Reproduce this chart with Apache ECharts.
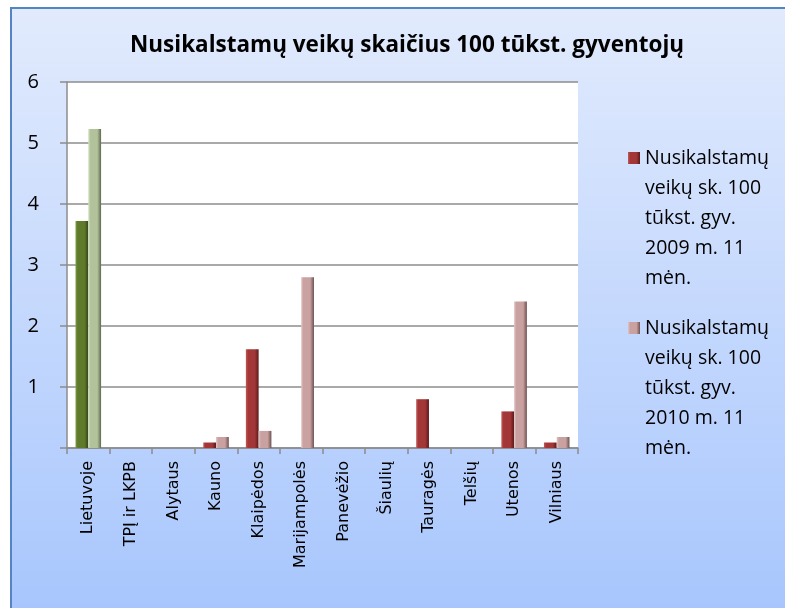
<!DOCTYPE html>
<html><head><meta charset="utf-8">
<script src="https://cdn.jsdelivr.net/npm/echarts@6/dist/echarts.min.js"></script>
<style>html,body{margin:0;padding:0;background:#fff}#c{width:785px;height:608px}</style>
</head><body><div id="c"></div>
<script>
const categories = ['Lietuvoje','TPĮ ir LKPB','Alytaus','Kauno','Klaipėdos','Marijampolės','Panevėžio','Šiaulių','Tauragės','Telšių','Utenos','Vilniaus'];
const v2009 = [3.72, 0, 0, 0.09, 1.62, 0, 0, 0, 0.8, 0, 0.6, 0.09];
const v2010 = [5.23, 0, 0, 0.18, 0.28, 2.8, 0, 0, 0, 0, 2.4, 0.18];
const seriesNames = ['Nusikalstamų\nveikų sk. 100\ntūkst. gyv.\n2009 m. 11\nmėn.', 'Nusikalstamų\nveikų sk. 100\ntūkst. gyv.\n2010 m. 11\nmėn.'];
const yTicks = [0,1,2,3,4,5,6];

function grad(light, face, dark){
  return {type:'linear',x:0,y:0,x2:1,y2:0,colorStops:[
    {offset:0,color:light},{offset:0.18,color:face},{offset:0.7,color:face},{offset:1,color:dark}]};
}
const red = grad('#c25a5a','#a33636','#5a1a1a');
const pink = grad('#e2c4c4','#c9a1a1','#6e5252');
const green = grad('#7c9a44','#5e7a2a','#34441a');
const lgreen = grad('#d2dfbd','#b2c29a','#5e6a52');

const d2009 = v2009.map((v,i)=> i===0 ? {value:v,itemStyle:{color:green}} : v);
const d2010 = v2010.map((v,i)=> i===0 ? {value:v,itemStyle:{color:lgreen}} : v);

const legendText = {fontFamily:'Open Sans', fontSize:19.5, color:'#000', lineHeight:30};
const pad = '\n\n\n\n';

const chart = echarts.init(document.getElementById('c'), null, {renderer:'canvas'});
chart.setOption({
  animation:false,
  backgroundColor:'#fff',
  graphic:[{type:'rect', z:-10, silent:true, shape:{x:11,y:8,width:800,height:620},
    style:{fill:{type:'linear',x:0,y:0,x2:0,y2:1,colorStops:[{offset:0,color:'#e2ebfd'},{offset:1,color:'#a6c5fd'}]},
    stroke:'#5584c4', lineWidth:2}}],
  title:{text:'Nusikalstamų veikų skaičius 100 tūkst. gyventojų', left:125, top:29,
    textStyle:{fontFamily:'Open Sans', fontWeight:'bold', fontSize:22.5, color:'#000'}},
  legend:[
    {data:[seriesNames[0]], orient:'vertical', left:628, top:23, padding:0, itemWidth:12, itemHeight:12, icon:'rect', itemGap:0, textStyle:legendText, selectedMode:false, formatter:(n)=>pad+n},
    {data:[seriesNames[1]], orient:'vertical', left:628, top:193, padding:0, itemWidth:12, itemHeight:12, icon:'rect', itemGap:0, textStyle:legendText, selectedMode:false, formatter:(n)=>pad+n}
  ],
  grid:{left:67, right:207, top:82, bottom:160, show:true, backgroundColor:'#fff', borderWidth:0, containLabel:false},
  xAxis:{type:'category', data:categories,
    axisLine:{lineStyle:{color:'#8c8c8c', width:1.5}},
    axisTick:{show:true, length:6, lineStyle:{color:'#8c8c8c', width:1.5}},
    axisLabel:{rotate:90, margin:13, interval:0, fontFamily:'DejaVu Sans', fontSize:16, color:'#000'}},
  yAxis:{type:'value', min:0, max:6, interval:1,
    axisLine:{show:true, lineStyle:{color:'#8c8c8c', width:1.5}},
    axisTick:{show:true, length:7, lineStyle:{color:'#8c8c8c', width:1.5}},
    splitLine:{lineStyle:{color:'#8c8c8c', width:1.5}},
    axisLabel:{margin:28, fontFamily:'Open Sans', fontSize:20, color:'#000', formatter:(v)=> yTicks.includes(v) && v!==0 ? String(v) : ''}},
  series:[
    {name:seriesNames[0], type:'bar', data:d2009, barWidth:'30%', barGap:'0%', itemStyle:{color:red}},
    {name:seriesNames[1], type:'bar', data:d2010, barWidth:'30%', barGap:'0%', itemStyle:{color:pink}}
  ]
});
</script></body></html>
